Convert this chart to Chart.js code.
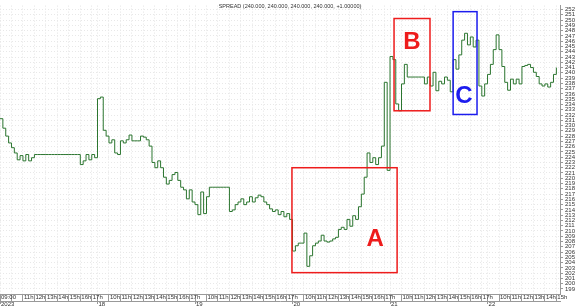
<!DOCTYPE html>
<html>
<head>
<meta charset="utf-8">
<script src="https://cdn.jsdelivr.net/npm/chart.js@4/dist/chart.umd.min.js"></script>
<style>
  html, body { margin: 0; background: #fff; }
  #wrap { width: 580px; height: 307px; }
</style>
</head>
<body>
<div id="wrap"><canvas id="spread"></canvas></div>
<script>
// one value every 15 trading minutes, session 09:00-17:30
const dayLabels = ['2023', '18', '19', '20', '21', '22'];
const day17 = [231.3, 229.5, 228.0, 226.7, 225.8, 224.8, 223.5, 224.3, 223.3, 224.5, 223.3, 223.9,
  224.5, 224.5, 224.5, 224.5, 224.5, 224.5, 224.5, 224.5, 224.5, 224.5, 224.5, 224.5, 224.5, 224.5, 224.5, 224.5,
  222.6, 223.3, 224.5, 223.5, 224.5, 223.9];
const day18 = [235.1, 235.4, 229.1, 228.0, 226.7, 227.3, 224.8, 224.5, 227.1, 226.7, 227.3, 228.2,
  227.1, 227.1, 227.1, 228.0, 227.8, 227.3, 226.1, 223.0, 222.0, 223.3, 222.0, 220.2, 218.9, 219.6,
  220.7, 221.1, 219.6, 218.3, 217.8, 216.1, 217.8, 215.5];
const day19 = [215.0, 213.1, 217.4, 213.3, 216.5, 218.3, 218.3, 218.3, 218.3, 218.3, 218.3, 218.3,
  213.7, 214.0, 215.0, 215.5, 216.1, 215.0, 215.5, 216.5, 215.5, 216.3, 216.8, 216.5, 215.5, 215.0,
  214.2, 213.7, 214.0, 213.1, 213.7, 212.7, 213.3, 212.2];
const day20 = [206.2, 207.2, 207.7, 207.7, 209.6, 203.3, 205.3, 207.2, 207.7, 208.1, 209.2, 208.1,
  207.9, 208.1, 208.5, 208.8, 210.3, 210.7, 210.3, 212.2, 210.9, 212.9, 212.2, 214.6, 217.0, 220.2,
  224.8, 223.0, 223.9, 222.6, 223.9, 226.1, 238.2, 221.5];
const day21 = [243.1, 242.5, 234.1, 232.8, 237.9, 241.6, 239.2, 239.2, 239.2, 239.2, 239.2, 239.2,
  237.9, 239.2, 237.5, 240.1, 236.6, 238.4, 237.9, 239.2, 238.6, 236.4, 242.5, 240.7, 243.4, 246.2,
  247.5, 245.3, 246.8, 244.9, 246.2, 237.5, 235.6, 237.9];
const day22 = [239.7, 241.6, 244.4, 247.2, 244.4, 241.2, 238.2, 236.7, 238.8, 237.9, 238.8, 237.9,
  241.2, 241.4, 241.6, 241.0, 240.1, 239.3, 237.9, 237.5, 237.9, 237.3, 238.2, 239.7, 241.0];
const days = [day17, day18, day19, day20, day21, day22];

const STEP = 15;
const DAY_MIN = 510;
const X_MAX = 2929;
const Y_MIN = 198.05;
const Y_MAX = 252.75;
const TITLE = 'SPREAD (240.000, 240.000, 240.000, 240.000, +1.00000)';

// marked zones: minutes from first open, spread values
const zones = [
  { x0: 1527, x1: 2077, y0: 202.1, y1: 222.0, color: '#ee1c1c', letter: 'A', lx: 1962, ly: 208.5 },
  { x0: 2061, x1: 2249, y0: 232.8, y1: 250.3, color: '#ee1c1c', letter: 'B', lx: 2155, ly: 245.7 },
  { x0: 2370, x1: 2495, y0: 232.1, y1: 251.6, color: '#1c1cee', letter: 'C', lx: 2427, ly: 235.6 }
];

const points = [];
days.forEach((vals, d) => vals.forEach((v, i) => points.push({ x: d * DAY_MIN + i * STEP, y: v })));

const hourTicks = [];
days.forEach((_, d) => {
  for (let h = 9; h <= 17; h++) {
    const t = d * DAY_MIN + (h - 9) * 60;
    if (t <= X_MAX) hourTicks.push(t);
  }
});
const dayTicks = days.map((_, d) => d * DAY_MIN);

function hourLabel(value) {
  const d = Math.floor(value / DAY_MIN);
  const h = 9 + (value - d * DAY_MIN) / 60;
  if (h === 9) return d === 0 ? '09:00' : '';
  if (d === 0 && h === 10) return '';
  return h + 'h';
}

const font = { family: 'Liberation Sans', size: 6 };

const titlePlugin = {
  id: 'spreadTitle',
  afterDraw(chart) {
    const ctx = chart.ctx;
    ctx.save();
    ctx.font = '5.5px "Liberation Sans"';
    ctx.fillStyle = '#333';
    ctx.textAlign = 'center';
    ctx.textBaseline = 'middle';
    ctx.fillText(TITLE, chart.width / 2, 6);
    ctx.restore();
  }
};

const zonePlugin = {
  id: 'zones',
  afterDatasetsDraw(chart) {
    const { ctx, scales: { x, y } } = chart;
    ctx.save();
    zones.forEach((z) => {
      const left = x.getPixelForValue(z.x0);
      const right = x.getPixelForValue(z.x1);
      const top = y.getPixelForValue(z.y1);
      const bottom = y.getPixelForValue(z.y0);
      ctx.strokeStyle = z.color;
      ctx.lineWidth = 1.5;
      ctx.strokeRect(left, top, right - left, bottom - top);
      ctx.fillStyle = z.color;
      ctx.font = 'bold 24px "Liberation Sans"';
      ctx.textAlign = 'center';
      ctx.textBaseline = 'middle';
      ctx.fillText(z.letter, x.getPixelForValue(z.lx), y.getPixelForValue(z.ly));
    });
    ctx.restore();
  }
};

new Chart(document.getElementById('spread'), {
  type: 'line',
  data: {
    datasets: [{
      data: points,
      borderColor: '#2b752f',
      borderWidth: 1,
      pointRadius: 0,
      stepped: true,
      fill: false
    }]
  },
  options: {
    responsive: true,
    maintainAspectRatio: false,
    animation: false,
    layout: { padding: 0 },
    plugins: { legend: { display: false }, tooltip: { enabled: false } },
    scales: {
      x: {
        type: 'linear',
        position: 'bottom',
        min: 0,
        max: X_MAX,
        afterBuildTicks: (s) => { s.ticks = hourTicks.map((v) => ({ value: v })); },
        afterFit: (s) => { s.height = 7; },
        ticks: {
          autoSkip: false, maxRotation: 0, minRotation: 0, align: 'start',
          labelOffset: 1, padding: -7, font, color: '#333',
          callback: (v) => hourLabel(v)
        },
        grid: { color: '#e4e4e4', tickColor: '#999', tickLength: 7 },
        border: { color: '#999', dash: [1, 2] }
      },
      days: {
        type: 'linear',
        position: 'bottom',
        min: 0,
        max: X_MAX,
        afterBuildTicks: (s) => { s.ticks = dayTicks.map((v) => ({ value: v })); },
        afterFit: (s) => { s.height = 6; },
        ticks: {
          autoSkip: false, maxRotation: 0, minRotation: 0, align: 'start',
          labelOffset: 1, padding: -3, font, color: '#333',
          callback: (v) => dayLabels[Math.round(v / DAY_MIN)]
        },
        grid: { drawOnChartArea: false, tickColor: '#999', tickLength: 3 },
        border: { color: '#999' }
      },
      y: {
        position: 'right',
        min: Y_MIN,
        max: Y_MAX,
        afterFit: (s) => { s.width = 20; },
        ticks: {
          stepSize: 1, includeBounds: false, autoSkip: false,
          padding: 2, font, color: '#333'
        },
        grid: { color: '#e8e8e8', tickColor: '#999', tickLength: 3 },
        border: { color: '#999', dash: [1, 2] }
      }
    }
  },
  plugins: [titlePlugin, zonePlugin]
});
</script>
</body>
</html>
